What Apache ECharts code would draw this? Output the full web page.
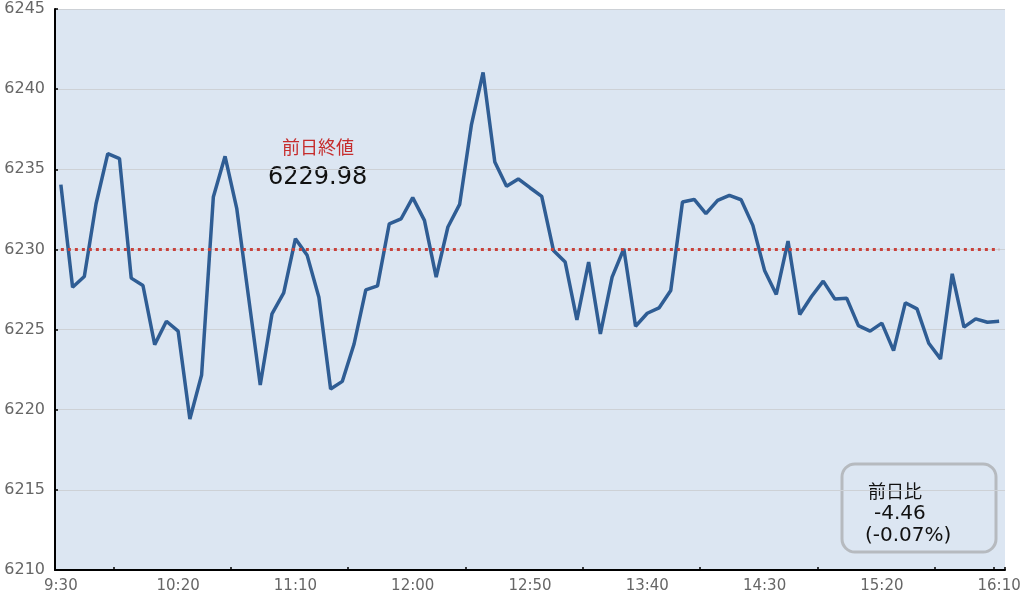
<!DOCTYPE html>
<html lang="ja">
<head>
<meta charset="utf-8">
<title>日中足チャート</title>
<script src="https://cdn.jsdelivr.net/npm/echarts/dist/echarts.min.js"></script>
<style>
	html, body { margin: 0; padding: 0; background: #ffffff; }
	#priceChart { width: 1030px; height: 595px; }
</style>
</head>
<body>
<div id="priceChart"></div>
<script>
/********************************************************/
/* データ定義部分 */
/********************************************************/
// 時刻（5分足）
const times = [
	"9:30", "9:35", "9:40", "9:45", "9:50", "9:55",
	"10:00", "10:05", "10:10", "10:15", "10:20", "10:25", "10:30", "10:35", "10:40", "10:45", "10:50", "10:55",
	"11:00", "11:05", "11:10", "11:15", "11:20", "11:25", "11:30", "11:35", "11:40", "11:45", "11:50", "11:55",
	"12:00", "12:05", "12:10", "12:15", "12:20", "12:25", "12:30", "12:35", "12:40", "12:45", "12:50", "12:55",
	"13:00", "13:05", "13:10", "13:15", "13:20", "13:25", "13:30", "13:35", "13:40", "13:45", "13:50", "13:55",
	"14:00", "14:05", "14:10", "14:15", "14:20", "14:25", "14:30", "14:35", "14:40", "14:45", "14:50", "14:55",
	"15:00", "15:05", "15:10", "15:15", "15:20", "15:25", "15:30", "15:35", "15:40", "15:45", "15:50", "15:55",
	"16:00", "16:05", "16:10"
];
// 指数値
const prices = [
	6234.04, 6227.64, 6228.31, 6232.85, 6235.98, 6235.67, 6228.21, 6227.75, 6224.06, 6225.52,
	6224.90, 6219.42, 6222.17, 6233.27, 6235.81, 6232.54, 6227.04, 6221.54, 6225.98, 6227.29,
	6230.67, 6229.63, 6227.02, 6221.29, 6221.77, 6224.10, 6227.48, 6227.73, 6231.60, 6231.90,
	6233.23, 6231.81, 6228.27, 6231.40, 6232.81, 6237.75, 6241.04, 6235.46, 6233.94, 6234.40,
	6233.85, 6233.31, 6229.94, 6229.21, 6225.60, 6229.21, 6224.73, 6228.27, 6230.04, 6225.21,
	6226.02, 6226.35, 6227.44, 6232.96, 6233.12, 6232.23, 6233.06, 6233.37, 6233.10, 6231.50,
	6228.69, 6227.19, 6230.52, 6225.94, 6227.06, 6228.02, 6226.90, 6226.96, 6225.25, 6224.90,
	6225.40, 6223.69, 6226.67, 6226.29, 6224.15, 6223.17, 6228.48, 6225.15, 6225.67, 6225.46,
	6225.52
];
// 前日終値
const prevClose = 6229.98;
// 前日比
const changeText = ["前日比", "-4.46", "(-0.07%)"];
// Y軸目盛
const yTicks = [6210, 6215, 6220, 6225, 6230, 6235, 6240, 6245];

/********************************************************/
/* 功能呼び出し部分 */
/********************************************************/
const labelFont = 'DejaVu Sans, "Noto Sans CJK JP", sans-serif';
const redColor = '#c62d2d';

drawChart({
	animation: false,
	backgroundColor: '#ffffff',
	grid: {
		left: 55,
		right: 25,
		top: 9,
		bottom: 25,
		show: true,
		backgroundColor: '#dce6f2',
		borderWidth: 0
	},
	xAxis: {
		type: 'category',
		data: times,
		boundaryGap: true,
		axisLine: { lineStyle: { color: '#000000', width: 2 } },
		axisTick: {
			show: true,
			inside: true,
			length: 3,
			lineStyle: { color: '#000000', width: 1.5 },
			// 目盛はラベルの間（境界5,15,…）と末尾
			interval: function (index) { return index % 10 === 5 || index === times.length - 1; }
		},
		axisLabel: {
			interval: 9,
			color: '#666666',
			fontSize: 15,
			fontFamily: labelFont,
			margin: 9
		},
		splitLine: { show: false }
	},
	yAxis: {
		type: 'value',
		min: yTicks[0],
		max: yTicks[yTicks.length - 1],
		interval: 5,
		axisLine: { show: true, lineStyle: { color: '#000000', width: 2 } },
		axisTick: { show: true, inside: true, length: 3, lineStyle: { color: '#000000', width: 1.5 } },
		axisLabel: {
			color: '#666666',
			fontSize: 16,
			fontFamily: labelFont,
			margin: 10,
			formatter: function (v) { return String(v); }
		},
		splitLine: { show: true, lineStyle: { color: '#cdd1d6', width: 1 } }
	},
	series: [{
		name: '指数',
		type: 'line',
		data: prices,
		symbol: 'none',
		lineStyle: { color: '#2f5d94', width: 3.5 },
		markLine: {
			silent: true,
			symbol: 'none',
			label: { show: false },
			lineStyle: { color: '#c8413b', width: 3, type: [3, 4] },
			data: [[
				{ coord: [times[0], prevClose] },
				{ coord: [times[times.length - 1], prevClose] }
			]]
		}
	}],
	graphic: [
		{
			type: 'text',
			left: 282, top: 138,
			style: { text: '前日終値', fill: redColor, fontSize: 18, fontFamily: '"Noto Sans CJK JP", sans-serif' }
		},
		{
			type: 'text',
			left: 268, top: 166,
			style: { text: prevClose.toFixed(2), fill: '#111111', fontSize: 24, fontFamily: labelFont }
		},
		{
			type: 'rect',
			shape: { x: 842, y: 464, width: 154, height: 88, r: 13 },
			style: { fill: 'rgba(0,0,0,0)', stroke: '#b6babf', lineWidth: 3 }
		},
		{
			type: 'text',
			left: 868, top: 482,
			style: { text: changeText[0], fill: '#111111', fontSize: 18, fontFamily: '"Noto Sans CJK JP", sans-serif' }
		},
		{
			type: 'text',
			left: 874, top: 504,
			style: { text: changeText[1], fill: '#111111', fontSize: 20, fontFamily: labelFont }
		},
		{
			type: 'text',
			left: 865, top: 526,
			style: { text: changeText[2], fill: '#111111', fontSize: 20, fontFamily: labelFont }
		}
	]
});

/********************************************************/
/* 関数定義部分 */
/********************************************************/
/**
 * 功能：チャート描画
 * 参数：対象。チャート設定項目
**/
function drawChart(option) {
	let chart = echarts.init(document.getElementById('priceChart'));
	chart.setOption(option);
}
</script>
</body>
</html>
